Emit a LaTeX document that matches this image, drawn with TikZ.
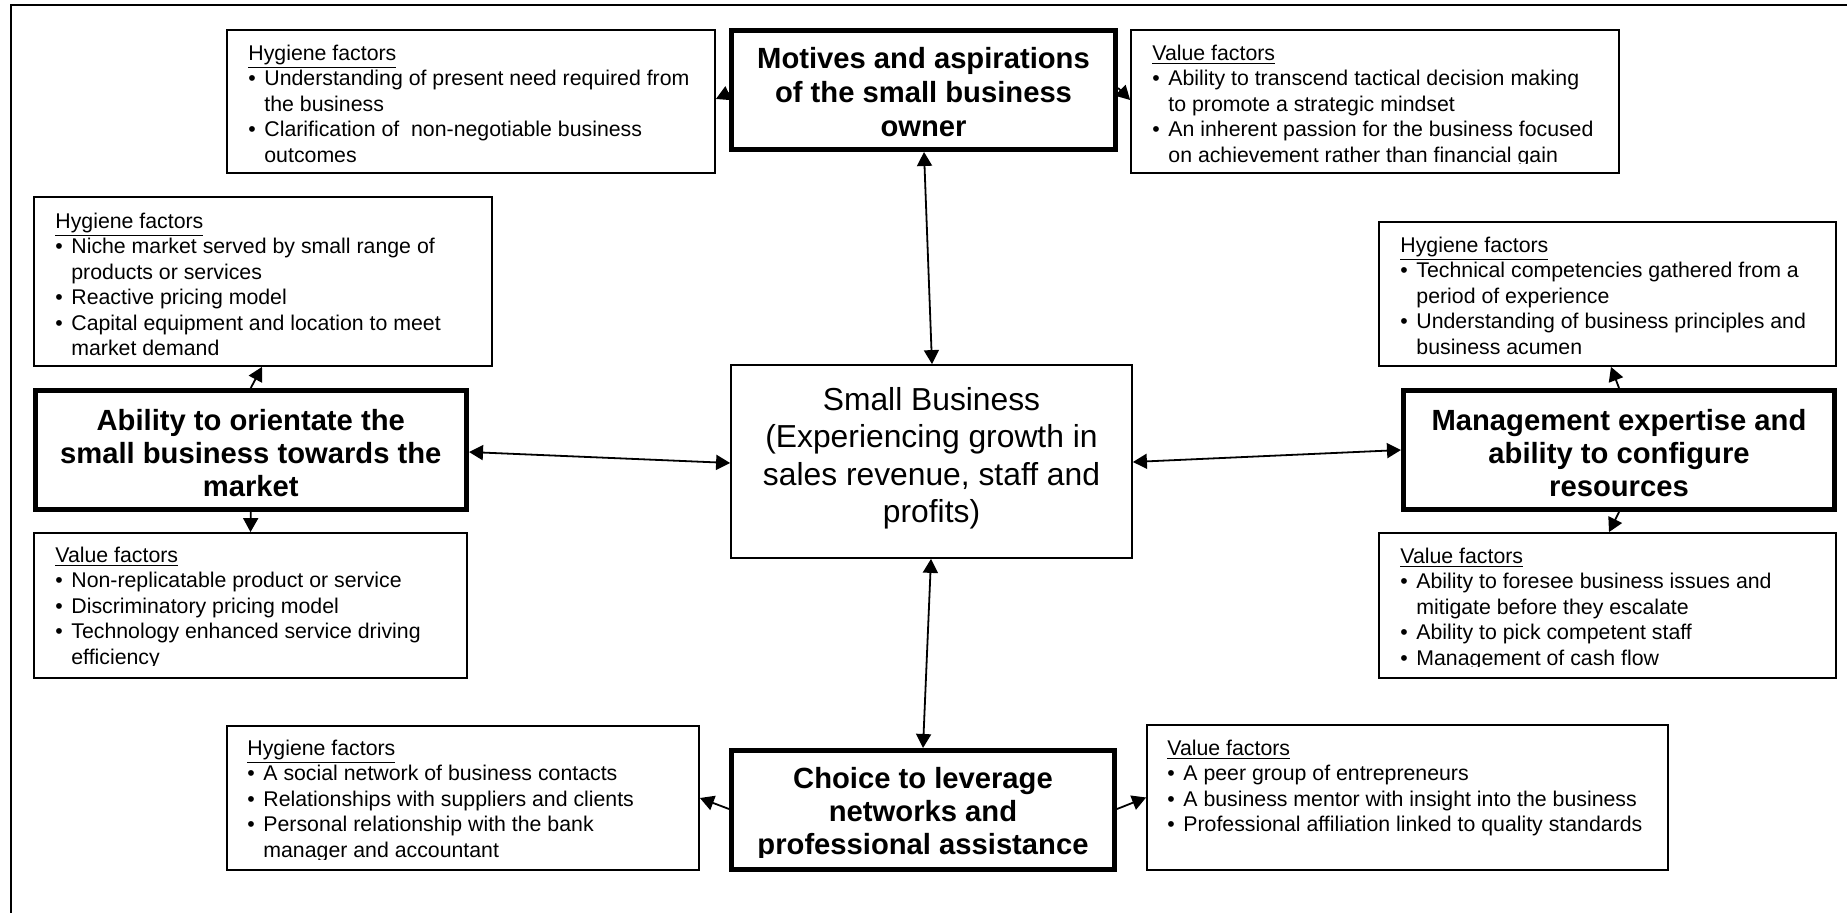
\documentclass[tikz,border=0pt]{standalone}
\usepackage{fontspec}
\setmainfont{Liberation Sans}
\usetikzlibrary{arrows.meta}
\newcommand{\bu}{\makebox[8pt][l]{\textbullet}}
\newcommand{\hi}{\hspace*{8pt}}
\newcommand{\fst}{\rule{0pt}{10pt}}
\newcommand{\tst}{\rule{0pt}{14pt}}
\newcommand{\sst}{\rule{0pt}{16pt}}
\begin{document}
\begin{tikzpicture}[x=0.5pt, y=-0.5pt,
  sz/.style 2 args={minimum width=#1*0.5pt, minimum height=#2*0.5pt},
  thin/.style={draw, line width=0.9pt, inner sep=0pt},
  thick/.style={draw, line width=2.5pt, inner sep=0pt},
  ftext/.style={anchor=north west, inner sep=0pt, align=left, font=\fontsize{10.65pt}{12.75pt}\selectfont},
  ttext/.style={anchor=north, inner sep=0pt, align=center, font=\bfseries\fontsize{14.6pt}{16.5pt}\selectfont},
  stext/.style={anchor=north, inner sep=0pt, align=center, font=\fontsize{15.9pt}{18.75pt}\selectfont},
  conn/.style={line width=0.9pt, -{Triangle[length=7pt,width=7.5pt]}},
  dconn/.style={line width=0.9pt, {Triangle[length=7pt,width=7.5pt]}-{Triangle[length=7pt,width=7.5pt]}},
  frame/.style={line width=0.9pt}
]
\useasboundingbox (0,0) rectangle (1847,913);
% outer frame (top and left edges only)
\draw[frame] (11,913) -- (11,5) -- (1847,5);

% boxes
\node[thin, sz={488}{143}] (hygM) at (471,101.5) {};
\node[thick, sz={384}{119}] (motives) at (923.5,90) {};
\node[thin, sz={488}{143}] (valM) at (1375,101.5) {};
\node[thin, sz={458}{169}] (hygA) at (263,281.5) {};
\node[thick, sz={431.5}{119}] (ability) at (250.75,450) {};
\node[thin, sz={433}{145}] (valA) at (250.5,605.5) {};
\node[thin, sz={401}{193}] (sb) at (931.5,461.5) {};
\node[thin, sz={457}{144}] (hygR) at (1607.5,294) {};
\node[thick, sz={431}{119}] (mgmt) at (1619,450) {};
\node[thin, sz={457}{145}] (valR) at (1607.5,605.5) {};
\node[thin, sz={472}{144}] (hygC) at (463,798) {};
\node[thick, sz={383}{119}] (choice) at (923,810) {};
\node[thin, sz={521}{145}] (valC) at (1407.5,797.5) {};

% title texts
\node[ttext, font=\bfseries\fontsize{14.6pt}{17pt}\selectfont] (motivesT) at (923.5,40) {\tst Motives and aspirations\\of the small business\\owner};
\node[ttext] (abilityT) at (250.75,402) {\tst Ability to orientate the\\small business towards the\\market};
\node[ttext] (mgmtT) at (1619,402) {\tst Management expertise and\\ability to configure\\resources};
\begin{scope}
\clip (700,740) rectangle (1150,857);
\node[ttext] (choiceT) at (923,760) {\tst Choice to leverage\\networks and\\professional assistance};
\end{scope}
\node[stext] (sbT) at (931.5,378) {\sst Small Business\\(Experiencing growth in\\sales revenue, staff and\\profits)};

% factor texts
\node[ftext] (hygMT) at (248,40) {\fst\underline{Hygiene factors}\\
\bu Understanding of present need required from\\
\hi the business\\
\bu Clarification of~ non-negotiable business\\
\hi outcomes};
\begin{scope}
\clip (1131,30) rectangle (1619,164);
\node[ftext] (valMT) at (1152,40) {\fst\underline{Value factors}\\
\bu Ability to transcend tactical decision making\\
\hi to promote a strategic mindset\\
\bu An inherent passion for the business focused\\
\hi on achievement rather than financial gain};
\end{scope}
\node[ftext] (hygAT) at (55,208) {\fst\underline{Hygiene factors}\\
\bu Niche market served by small range of\\
\hi products or services\\
\bu Reactive pricing model\\
\bu Capital equipment and location to meet\\
\hi market demand};
\begin{scope}
\clip (34,533) rectangle (467,666);
\node[ftext] (valAT) at (55,542) {\fst\underline{Value factors}\\
\bu Non-replicatable product or service\\
\bu Discriminatory pricing model\\
\bu Technology enhanced service driving\\
\hi efficiency};
\end{scope}
\node[ftext] (hygRT) at (1400,232) {\fst\underline{Hygiene factors}\\
\bu Technical competencies gathered from a\\
\hi period of experience\\
\bu Understanding of business principles and\\
\hi business acumen};
\begin{scope}
\clip (1379,533) rectangle (1836,667);
\node[ftext] (valRT) at (1400,543) {\fst\underline{Value factors}\\
\bu Ability to foresee business issues and\\
\hi mitigate before they escalate\\
\bu Ability to pick competent staff\\
\bu Management of cash flow};
\end{scope}
\begin{scope}
\clip (227,726) rectangle (699,859);
\node[ftext] (hygCT) at (247,735) {\fst\underline{Hygiene factors}\\
\bu A social network of business contacts\\
\bu Relationships with suppliers and clients\\
\bu Personal relationship with the bank\\
\hi manager and accountant};
\end{scope}
\node[ftext] (valCT) at (1167,735) {\fst\underline{Value factors}\\
\bu A peer group of entrepreneurs\\
\bu A business mentor with insight into the business\\
\bu Professional affiliation linked to quality standards};

% connectors
\draw[dconn] ([xshift=0.25pt]motives.south) -- ([xshift=0.25pt]sb.north);
\draw[dconn] ([yshift=-1pt]ability.east) -- ([yshift=-0.75pt]sb.west);
\draw[dconn] ([yshift=-0.25pt]sb.east) -- (mgmt.west);
\draw[dconn] ([xshift=-0.25pt]sb.south) -- (choice.north);
\draw[conn] ([yshift=-1.5pt]motives.west) -- ([yshift=1.25pt]hygM.east);
\draw[conn] ([yshift=1pt]motives.east) -- ([yshift=0.75pt]valM.west);
\draw[conn] (ability.north) -- ([xshift=-0.5pt]hygA.south);
\draw[conn] (ability.south) -- (valA.north);
\draw[conn] (mgmt.north) -- ([xshift=-4pt]hygR.south -| mgmt.north);
\draw[conn] (mgmt.south) -- ([xshift=0.75pt]valR.north);
\draw[conn] ([yshift=0.5pt]choice.west) -- (hygC.east);
\draw[conn] ([yshift=0.5pt]choice.east) -- (valC.west);
\end{tikzpicture}
\end{document}
